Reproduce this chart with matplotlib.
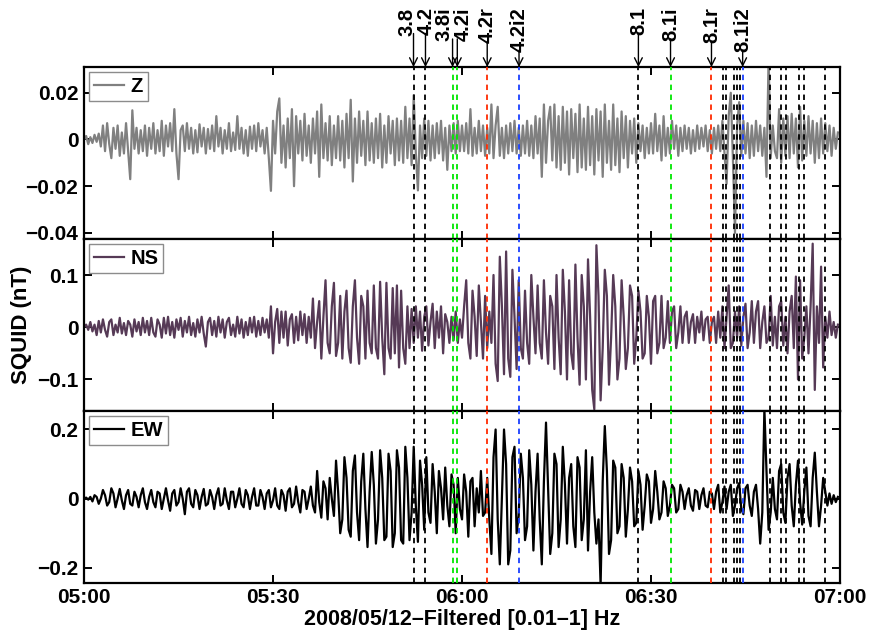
import numpy as np
import matplotlib
matplotlib.use("Agg")
import matplotlib.pyplot as plt

plt.rcParams["font.family"] = ["Liberation Sans", "DejaVu Sans"]
plt.rcParams["font.weight"] = "bold"

# samples every 20 s, minutes after 05:00
dt = 1 / 3

# Z in 1e-4 nT, one row = 10 min
z_vals = [
    0, 15, -20, 10, -15, 20, -10, 25, -30, 60, -50, 70, -20, -80, 50, -40, 60, -70, 30, -60, 70, -50, -170, 125, -40, 50, -60, 40, -50, 60,
    -70, 50, -40, 70, -60, 40, -50, 80, -70, 60, -30, 70, -50, 130, -60, -170, 40, 60, -50, 70, -40, 50, -60, 40, -55, 65, -30, 50, -60, 45,
    -40, 60, -50, 100, -30, 50, -60, 40, -40, 70, -50, 30, -45, 100, -40, 50, -60, 40, -70, 55, -40, 60, -50, 70, -30, 40, -60, 50, -80, -220,
    80, -60, 120, 176, -100, 60, -120, 90, -80, 130, -200, 100, -60, 80, -90, 110, -70, 60, -100, 90, -60, 120, -160, 150, -80, 70, -90, 100, -110, 60,
    -80, 100, -90, 80, -120, 110, -80, 170, -180, 90, -100, 120, -70, 80, -110, 120, -90, 70, -100, 90, -80, 110, -120, 60, -100, 100, -60, 80, -110, 90,
    -90, 80, -100, 140, -80, 90, -110, 190, -60, -218, 60, -80, 90, -70, 80, -90, 60, -80, 70, -60, 80, -90, 50, -130, 60, -50, 70, -60, 80, -50,
    60, -50, 70, -60, 130, -70, 50, -60, 80, -50, 60, -70, 50, -60, 150, -80, 60, 140, -70, 50, -80, 60, -60, 70, -50, 80, -60, 50, -70, 60,
    -60, 80, -70, 60, -80, 100, -60, 90, -160, 150, -100, 80, 140, -90, 150, -120, 100, -130, 140, -100, 120, -150, 130, -80, 110, -140, 150, -120, 90, -130,
    140, -110, 100, -150, 130, -90, 120, -160, 150, -100, 80, -130, 150, -110, 90, -140, 120, -80, 100, -120, 80, -60, 90, -100, 70, -50, 60, -80, 50, -60,
    70, -60, 110, -50, 60, -90, 100, -70, 50, -60, 80, -40, 60, -70, 50, -50, 60, -40, 50, -60, 40, -50, 60, -40, 50, -30, 60, -50, 40, -60,
    50, -40, 60, -50, 80, -60, -190, 100, 200, -80, -400, 60, 160, -70, 80, -60, 70, -80, 60, -70, 80, -50, 60, -70, 50, -160, 350, -80, 60, -50,
    -80, 130, -100, 90, -70, 100, -80, 110, -60, 90, -120, 140, -90, 80, -70, 100, -60, 80, -100, 70, -80, 90, -60, 70, -50, 60, -70, 50, -40, 30,
]

# NS in 1e-3 nT
ns_vals = [
    0, 5, -5, 10, -8, 5, -15, 12, -10, 15, -5, -18, 10, 15, -15, 5, -10, 18, -12, 8, -15, 12, 5, -18, 15, -8, 10, -15, 18, -10,
    12, -15, 18, -10, -18, 15, 5, -20, 18, -12, 20, -15, 10, -20, 15, -5, 18, -18, 12, -10, 20, -15, 8, -18, 15, -10, 20, -12, -37, 10,
    18, -15, 12, -18, 20, -10, 15, -20, 10, 18, -15, 5, -18, 20, -12, 15, -20, 10, -15, 18, -10, 20, -18, 12, -15, 18, -10, 15, -20, 40,
    -50, 10, 35, -30, 30, -20, 30, -35, 15, 25, -30, 20, -25, 30, -15, 25, -30, 20, -20, 55, -40, 10, 50, -60, 20, 90, -30, -50, 40, 85,
    -55, -30, 60, -60, 30, 70, -40, -68, 40, 90, -20, -70, 60, 40, -60, 70, -30, -50, 80, -40, -60, 87, -20, -90, 85, -40, -60, 75, -50, 80,
    -77, 70, -40, -70, 40, -40, 35, -30, 40, -20, 30, -45, 20, 40, -35, 10, 45, -40, 30, -20, 40, -50, 25, 10, -30, 20, -25, 30, -30, 15,
    -20, 40, 90, -30, -60, 70, 20, -55, 80, 10, -60, 60, -40, 30, -30, 100, -70, -103, 135, 40, -90, 145, -60, -95, 110, 20, -80, 90, -40, -60,
    70, -30, -70, 100, 20, -50, 80, -30, -60, 90, -10, -70, 60, 40, -80, 100, -20, -90, 110, 30, -100, 90, -50, -80, 120, -20, -110, 100, 40, -100,
    130, 20, -120, -157, 157, 60, -140, -40, 110, 60, -110, -20, 100, 40, -100, -60, 90, 20, -80, -40, 80, 60, -70, -20, 70, 30, -60, -50, 60, 20,
    -70, 50, 60, -50, -30, 60, -40, -20, 50, -30, 30, 40, -40, -10, 40, -30, 20, 30, -30, 10, 25, -30, 20, -10, 30, -25, 15, 20, -30, 10,
    20, -30, 30, -20, 40, -40, 20, 80, -40, -30, 30, -20, 40, -35, 20, 45, -40, -10, 50, -30, 30, 50, -40, 10, 40, -30, -20, 60, -35, 20,
    -40, 40, 50, -35, 20, -50, 30, 60, -40, 97, -100, 90, -60, -20, 40, -50, 40, 160, -120, 40, -30, 116, -77, 20, -20, 30, -15, 10, -20, 5,
]

# EW in 1e-3 nT
ew_vals = [
    0, 3, -3, 5, -8, 10, 5, -15, 0, 25, 10, -20, -10, 30, 15, -25, 0, 28, -5, -30, 10, 25, -15, -20, 20, 5, -25, 10, 30, -10,
    -30, 5, 25, -10, -25, 20, 15, -30, 0, 30, -5, -35, 15, 25, -20, -10, 30, 0, -45, 20, 30, -15, -25, 25, 10, -30, 5, 28, -20, -15,
    25, 5, -30, 10, 30, -20, -15, 30, -5, -30, 20, 20, -25, 0, 30, -15, -25, 25, 10, -30, 5, 30, -20, -20, 25, 5, -30, 15, 25, -25,
    -5, 30, -20, -30, 25, 10, -35, 20, 30, -25, -15, 35, -10, -40, 25, 20, -30, 0, 35, -20, -40, 80, -10, -55, 50, 30, -60, 60, 0, -50,
    110, 20, -100, -60, 120, 60, -90, -110, 80, 125, -40, -120, 50, 130, -30, -140, 20, 135, 40, -130, -60, 140, 60, -120, -110, 130, 80, -140, -100, 140,
    90, -120, -130, 150, 60, -120, -40, 150, -20, -125, 110, 40, -90, 120, -40, -70, 100, 20, -100, 80, 30, -60, 90, -20, -80, 70, 40, -100, 60, -30,
    -60, 70, 20, -110, 50, 60, -80, 30, -40, 80, -50, -40, 60, -60, -160, 120, 200, -60, -190, 0, 200, 100, -190, -150, 120, 150, -100, -50, 130, 60,
    -120, -80, 140, 40, -150, 20, 130, -60, -190, 50, 220, 30, -160, -100, 130, 100, -140, -60, 150, 40, -130, 60, 100, -80, -140, 120, 90, -120, -60, 140,
    -150, 20, 120, -40, -130, -60, -250, 50, 210, 80, -160, -120, 110, 90, -100, -80, 100, 60, -110, -30, 90, 50, -80, -70, 80, 40, -90, -20, 70, 50,
    -70, -30, 80, 20, -60, -40, 50, 30, -50, -20, 40, 30, -40, -30, 40, 20, -30, 10, 30, -20, -35, 25, 20, -30, 10, 30, -20, -25, 20, 15,
    -30, 20, 40, -40, -10, 35, -30, 20, 40, -50, -20, 30, 45, -30, -45, 30, 40, -20, -50, 20, 40, -30, -130, -40, 260, 80, -90, -40, 60, -30,
    -60, 80, 100, -40, -70, 60, 100, -20, -80, 40, 110, -10, -75, 20, 90, -50, -80, 60, 133, 20, -80, -20, 60, 20, -20, 15, -15, 10, -10, 5,
]

series_names = ["Z", "NS", "EW"]
series_colors = ["#808080", "#563a56", "black"]
ylims = [(-0.0426, 0.031), (-0.160, 0.169), (-0.243, 0.254)]
yticks = [[-0.04, -0.02, 0, 0.02], [-0.1, 0, 0.1], [-0.2, 0, 0.2]]
ytick_labels = [["\u22120.04", "\u22120.02", "0", "0.02"], ["\u22120.1", "0", "0.1"], ["\u22120.2", "0", "0.2"]]

pick_labels = ["3.8", "4.2", "3.8i", "4.2i", "4.2r", "4.2i2", "8.1", "8.1i", "8.1r", "8.1i2"]
pick_minutes = [52.3, 54.2, 58.5, 59.25, 64.0, 69.05, 88.0, 93.1, 99.6, 104.55]
pick_colors = ["k", "k", "#00e600", "#00e600", "#ff2a00", "#1a40ff", "k", "#00e600", "#ff2a00", "#1a40ff"]
# sideways nudge of crowded labels, in points
pick_nudge = [-4.5, 0.5, -6.2, 4.6, 0, 0, 0, 0, 0, 0]
extra_minutes = [101.4, 101.9, 103.2, 103.7, 104.1, 108.9, 110.6, 111.4, 113.5, 114.3, 117.6]

xtick_minutes = [0, 30, 60, 90, 120]
xtick_labels = ["05:00", "05:30", "06:00", "06:30", "07:00"]

z = np.array(z_vals) * 1e-4
ns = np.array(ns_vals) * 1e-3
ew = np.array(ew_vals) * 1e-3
signals = [z, ns, ew]

fig = plt.figure(figsize=(8.7, 6.33), dpi=100)
gs = fig.add_gridspec(3, 1, left=0.0966, right=0.9655, top=0.894, bottom=0.0795, hspace=0)
axes = [fig.add_subplot(gs[i]) for i in range(3)]

for i, ax in enumerate(axes):
    sig = signals[i]
    tt = np.arange(len(sig)) * dt
    ax.plot(tt, sig, color=series_colors[i], lw=1.6, label=series_names[i], zorder=2)
    for m in extra_minutes:
        ax.axvline(m, color="k", ls=(0, (3, 2.5)), lw=1.3, zorder=3)
    for m, c in zip(pick_minutes, pick_colors):
        ax.axvline(m, color=c, ls=(0, (3, 2.5)), lw=1.3, zorder=3)
    ax.set_xlim(0, 120)
    ax.set_ylim(*ylims[i])
    ax.set_yticks(yticks[i])
    ax.set_yticklabels(ytick_labels[i])
    ax.set_xticks(xtick_minutes)
    if i < 2:
        ax.set_xticklabels([])
    else:
        ax.set_xticklabels(xtick_labels)
    ax.tick_params(direction="in", length=6, width=1.4, top=True, right=True,
                   labelsize=15, pad=4)
    for sp in ax.spines.values():
        sp.set_linewidth(1.6)
    leg = ax.legend(loc="upper left", fontsize=14.5, handlelength=1.5, handletextpad=0.3,
                    borderaxespad=0.25, borderpad=0.25, fancybox=False, framealpha=1)
    leg.get_frame().set_edgecolor("#8c8c8c")
    leg.get_frame().set_linewidth(1.0)
    for txt in leg.get_texts():
        txt.set_fontweight("bold")

axes[1].set_ylabel("SQUID (nT)", fontsize=16, fontweight="bold", labelpad=4)
axes[2].set_xlabel("2008/05/12\u2013Filtered [0.01\u20131] Hz", fontsize=15.5, fontweight="bold", labelpad=1)

top = axes[0]
pick_texts = []
for lab, m, nud in zip(pick_labels, pick_minutes, pick_nudge):
    t = top.annotate(lab, xy=(m, 1), xycoords=("data", "axes fraction"),
                     xytext=(nud, 43), textcoords="offset points",
                     rotation=90, ha="center", va="top", fontsize=14.5, fontweight="bold")
    pick_texts.append(t)

# vertical arrows from the bottom of each label down to the frame
fig.canvas.draw()
rend = fig.canvas.get_renderer()
for t, m in zip(pick_texts, pick_minutes):
    bb = t.get_window_extent(rend)
    y0 = top.transAxes.inverted().transform((0, bb.y0 + 2))[1]
    top.annotate("", xy=(m, 1), xycoords=("data", "axes fraction"),
                 xytext=(m, y0), textcoords=("data", "axes fraction"),
                 arrowprops=dict(arrowstyle="->", color="k", lw=1.0,
                                 shrinkA=0, shrinkB=0, mutation_scale=14))

fig.savefig("out.png", dpi=100)
